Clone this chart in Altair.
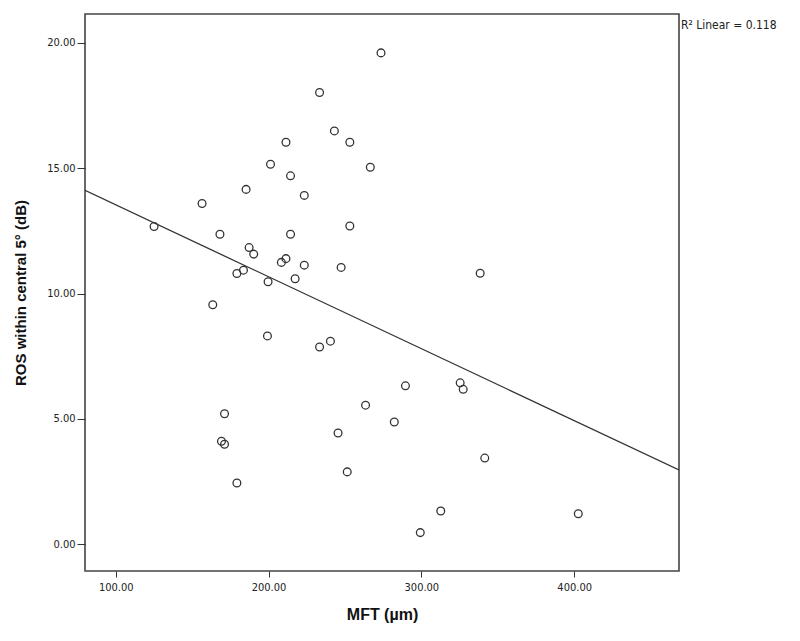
import altair as alt
import pandas as pd

# MFT (µm) values
mft = [125.1, 156.5, 168.2, 163.5, 185.3, 179.3, 183.6, 187.3, 190.3, 201.3,
       211.4, 214.4, 223.4, 214.4, 208.4, 211.4, 223.4, 217.4, 199.7, 233.4,
       243.1, 253.2, 266.6, 253.2, 247.5, 273.6, 338.5,
       199.3, 233.4, 240.5, 171.2, 169.2, 171.2, 179.3, 263.5, 245.5, 251.5,
       289.6, 282.3, 325.4, 327.4, 341.5, 312.7, 299.3, 402.7]
# ROS within central 5° (dB)
ros = [12.67, 13.59, 12.36, 9.55, 14.15, 10.80, 10.93, 11.83, 11.57, 15.15,
       16.03, 14.69, 13.91, 12.36, 11.24, 11.39, 11.13, 10.59, 10.47, 18.01,
       16.48, 16.03, 15.03, 12.69, 11.04, 19.59, 10.81,
       8.31, 7.87, 8.10, 5.21, 4.11, 3.99, 2.45, 5.55, 4.44, 2.89,
       6.32, 4.88, 6.44, 6.18, 3.44, 1.33, 0.47, 1.22]

# fitted linear line
fit_x = [79.9, 468.6]
fit_y = [14.11, 2.97]

x_domain = [79.9, 468.6]
y_domain = [-1.06, 21.14]
x_ticks = [100, 200, 300, 400]
y_ticks = [0, 5, 10, 15, 20]
r2_label = "R² Linear = 0.118"

pts = pd.DataFrame({"MFT": mft, "ROS": ros})
fit = pd.DataFrame({"MFT": fit_x, "ROS": fit_y})

label_font = "Liberation Sans Narrow, DejaVu Sans Condensed, Liberation Sans, Arial, sans-serif"
title_font = "Liberation Sans, Arial, sans-serif"

x_enc = alt.X(
    "MFT:Q",
    scale=alt.Scale(domain=x_domain, nice=False, zero=False),
    axis=alt.Axis(
        title="MFT (µm)", values=x_ticks, format=".2f", grid=False, domain=False,
        tickSize=6, tickColor="#333", labelPadding=4, labelFont=label_font,
        labelFontSize=11, labelColor="#222", titleFont=title_font,
        titleFontSize=16, titleFontWeight="bold", titleColor="#111",
        titlePadding=14,
    ),
)
y_enc = alt.Y(
    "ROS:Q",
    scale=alt.Scale(domain=y_domain, nice=False, zero=False),
    axis=alt.Axis(
        title="ROS within central 5° (dB)", values=y_ticks, format=".2f",
        grid=False, domain=False, tickSize=8, tickColor="#333", labelPadding=2,
        labelFont=label_font, labelFontSize=11, labelColor="#222",
        titleFont=title_font, titleFontSize=15, titleFontWeight="bold",
        titleColor="#111", titlePadding=18,
    ),
)

points = alt.Chart(pts).mark_point(
    shape="circle", filled=False, size=60, color="#333", strokeWidth=1.3, opacity=1
).encode(x=x_enc, y=y_enc)

line = alt.Chart(fit).mark_line(color="#333", strokeWidth=1.3, clip=True).encode(
    x="MFT:Q", y="ROS:Q"
)

r2 = alt.Chart(pd.DataFrame({"t": [r2_label]})).mark_text(
    align="left", baseline="middle", font=label_font, fontSize=12, color="#222"
).encode(text="t:N", x=alt.value(596), y=alt.value(11))

chart = (
    alt.layer(line, points, r2)
    .properties(width=594, height=557,
                padding={"left": 5, "top": 6, "right": 5, "bottom": 5})
    .configure(background="white")
    .configure_view(stroke="#444", strokeWidth=1.6)
)

chart.save("out.html", embed_options={"renderer": "svg", "actions": False})
